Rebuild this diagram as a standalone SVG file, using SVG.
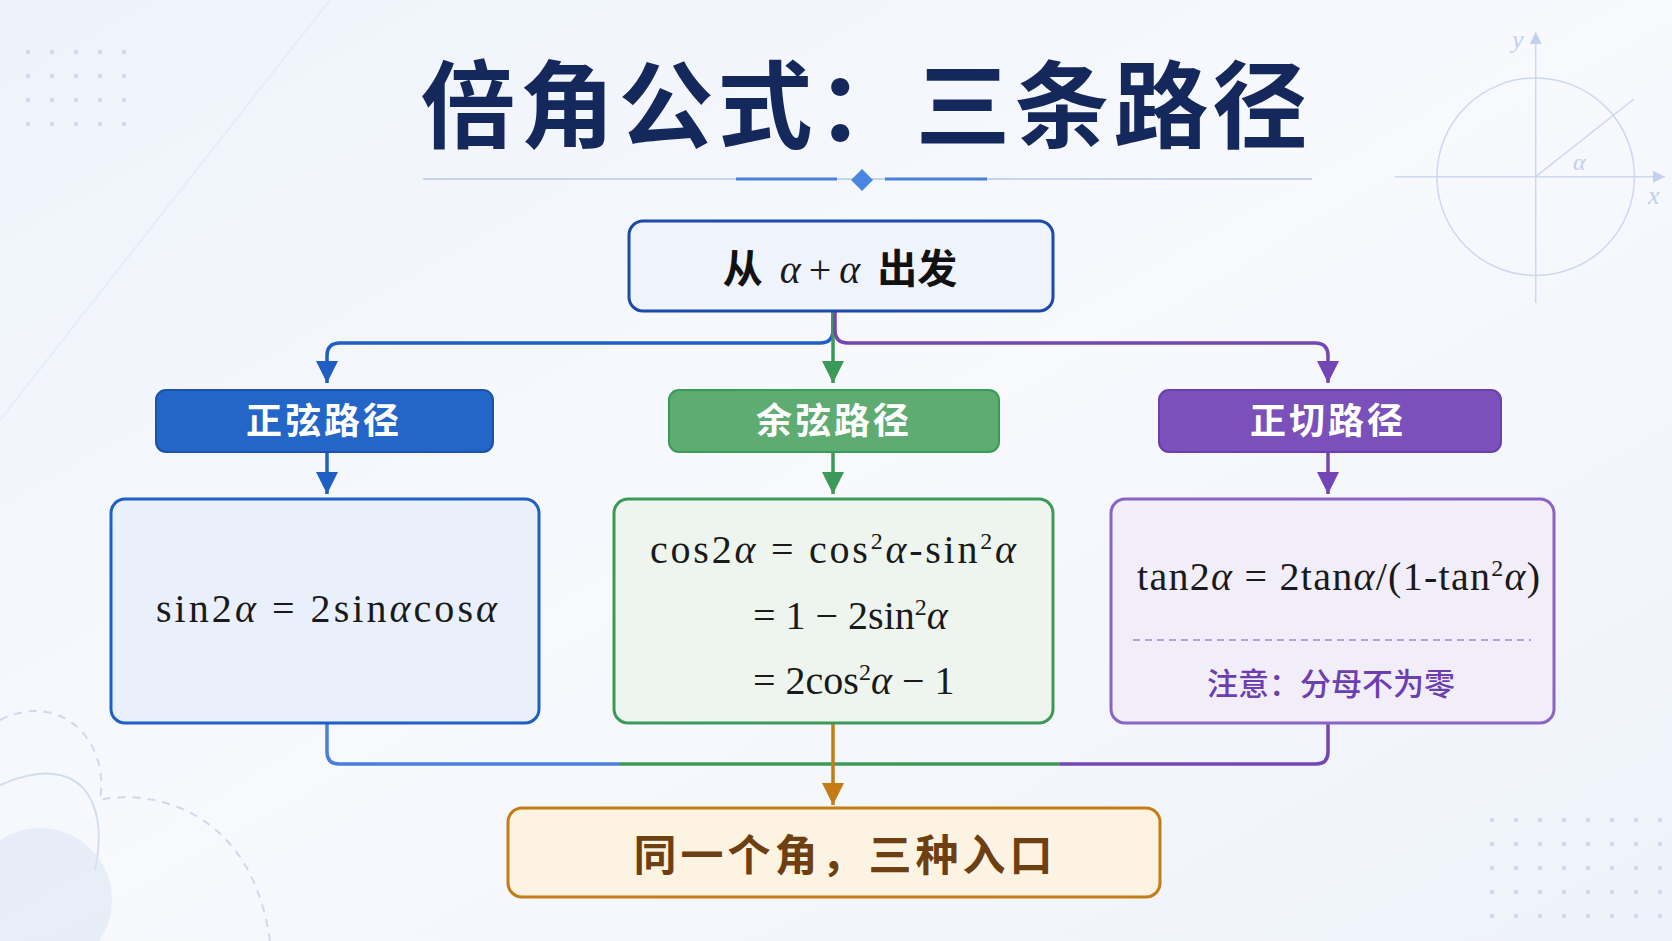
<svg xmlns="http://www.w3.org/2000/svg" width="1672" height="941" viewBox="0 0 1672 941">
<defs>
<linearGradient id="bg" x1="0" y1="0" x2="1" y2="1"><stop offset="0" stop-color="#eef3fb"/><stop offset="0.5" stop-color="#f7f9fd"/><stop offset="1" stop-color="#eef2fa"/></linearGradient>
<marker id="mb" viewBox="0 0 10 10" refX="9" refY="5" markerWidth="5" markerHeight="5" orient="auto" markerUnits="userSpaceOnUse"><path d="M0,0L10,5L0,10z" fill="#1f5fc4"/></marker>
<marker id="ab" viewBox="0 0 10 10" refX="10" refY="5" markerWidth="24" markerHeight="22" orient="auto" markerUnits="userSpaceOnUse"><path d="M0,0L10,5L0,10z" fill="#1f5fc4"/></marker>
<marker id="ag" viewBox="0 0 10 10" refX="10" refY="5" markerWidth="24" markerHeight="22" orient="auto" markerUnits="userSpaceOnUse"><path d="M0,0L10,5L0,10z" fill="#3c9a58"/></marker>
<marker id="ap" viewBox="0 0 10 10" refX="10" refY="5" markerWidth="24" markerHeight="22" orient="auto" markerUnits="userSpaceOnUse"><path d="M0,0L10,5L0,10z" fill="#7446b5"/></marker>
<marker id="ao" viewBox="0 0 10 10" refX="10" refY="5" markerWidth="24" markerHeight="22" orient="auto" markerUnits="userSpaceOnUse"><path d="M0,0L10,5L0,10z" fill="#c47d14"/></marker>
<marker id="ax" viewBox="0 0 10 10" refX="10" refY="5" markerWidth="14" markerHeight="12" orient="auto" markerUnits="userSpaceOnUse"><path d="M0,0L10,5L0,10z" fill="#c3cfee"/></marker>
<pattern id="dots" width="24" height="24" patternUnits="userSpaceOnUse"><circle cx="4" cy="4" r="2.3" fill="#c7d3ea"/></pattern>
</defs>
<style>
.cjk{font-family:"Noto Sans CJK SC","Noto Sans",sans-serif;font-weight:700}
.m{font-family:"Liberation Serif","DejaVu Serif",serif;font-size:40px;fill:#1a1a1a}
.i{font-style:italic}
.hd{font-size:36px;fill:#ffffff;text-anchor:middle}
.ln{fill:none;stroke-width:3.5;stroke-linejoin:round}
</style>
<rect width="1672" height="941" fill="url(#bg)"/>
<g id="decor">
<rect x="14" y="30" width="120" height="110" fill="url(#dots)" opacity="0.8"/>
<rect x="1484" y="810" width="180" height="125" fill="url(#dots)" opacity="0.8"/>
<path d="M0,420 L330,0" stroke="#e6edf8" stroke-width="2" fill="none"/>
<path d="M0,720 C60,690 110,740 100,800 C140,790 250,800 270,941" stroke="#cfd9ec" stroke-width="2" stroke-dasharray="8 7" fill="none"/>
<path d="M0,785 C80,750 110,800 95,870" stroke="#d3ddef" stroke-width="2" fill="none"/>
<circle cx="40" cy="900" r="72" fill="#dde6f4" opacity="0.6"/>
<circle cx="1535.7" cy="176.7" r="98.8" fill="none" stroke="#cdd7f0" stroke-width="1.5"/>
<line x1="1395" y1="176.7" x2="1665" y2="176.7" stroke="#cdd7f0" stroke-width="1.5" marker-end="url(#ax)"/>
<line x1="1535.7" y1="303" x2="1535.7" y2="32" stroke="#cdd7f0" stroke-width="1.5" marker-end="url(#ax)"/>
<line x1="1535.7" y1="176.7" x2="1634" y2="99" stroke="#cdd7f0" stroke-width="1.5"/>
<text x="1573" y="170" class="m i" font-size="24" fill="#c3cfee" style="font-size:24px;fill:#c3cfee">α</text>
<text x="1648" y="204" class="m i" style="font-size:26px;fill:#c3cfee">x</text>
<text x="1512" y="48" class="m i" style="font-size:26px;fill:#c3cfee">y</text>
</g>
<g id="title">
<text x="866" y="141" class="cjk" font-size="95" fill="#14285c" text-anchor="middle" letter-spacing="4">倍角公式：三条路径</text>
<line x1="423" y1="179" x2="1312" y2="179" stroke="#c6d3ee" stroke-width="2"/>
<line x1="736" y1="179" x2="837" y2="179" stroke="#4a80d8" stroke-width="3"/>
<line x1="885" y1="179" x2="987" y2="179" stroke="#4a80d8" stroke-width="3"/>
<path d="M862,169L873,180L862,191L851,180z" fill="#4a86e0"/>
</g>
<g id="connectors">
<path class="ln" stroke="#1f5fc4" d="M833,311 V330 Q833,343 820,343 H340 Q327,343 327,356 V383" marker-end="url(#ab)"/>
<path class="ln" stroke="#3c9a58" d="M833,311 V383" marker-end="url(#ag)"/>
<path class="ln" stroke="#7446b5" d="M835,311 V330 Q835,343 848,343 H1315 Q1328,343 1328,356 V383" marker-end="url(#ap)"/>
<path class="ln" stroke="#1f5fc4" d="M327,452 V494" marker-end="url(#ab)"/>
<path class="ln" stroke="#3c9a58" d="M833,452 V494" marker-end="url(#ag)"/>
<path class="ln" stroke="#7446b5" d="M1328,452 V494" marker-end="url(#ap)"/>
<path class="ln" stroke="#4a80d8" d="M327,723 V752 Q327,764 339,764 H620"/>
<path class="ln" stroke="#3c9a58" d="M620,764 H1060"/>
<path class="ln" stroke="#7446b5" d="M1060,764 H1316 Q1328,764 1328,752 V723"/>
<path class="ln" stroke="#c47d14" d="M833,723 V805" marker-end="url(#ao)"/>
</g>
<g id="start">
<rect x="629" y="221" width="424" height="90" rx="14" fill="#eef3fc" stroke="#1b4aa8" stroke-width="3"/>
<text x="840" y="283" text-anchor="middle" font-size="40" fill="#111"><tspan class="cjk">从 </tspan><tspan class="m i" dx="8">α</tspan><tspan class="m" dx="8">+</tspan><tspan class="m i" dx="8">α</tspan><tspan class="cjk" dx="8"> 出发</tspan></text>
</g>
<g id="h-sin">
<rect x="156" y="390" width="337" height="62" rx="10" fill="#2466c8" stroke="#1b53a8" stroke-width="2"/>
<text x="324" y="434" class="cjk hd" letter-spacing="3">正弦路径</text>
</g>
<g id="h-cos">
<rect x="669" y="390" width="330" height="62" rx="10" fill="#5eac72" stroke="#3c9a58" stroke-width="2"/>
<text x="834" y="434" class="cjk hd" letter-spacing="3">余弦路径</text>
</g>
<g id="h-tan">
<rect x="1159" y="390" width="342" height="62" rx="10" fill="#7b50ba" stroke="#6a3fae" stroke-width="2"/>
<text x="1328" y="434" class="cjk hd" letter-spacing="3">正切路径</text>
</g>
<g id="b-sin">
<rect x="111" y="499" width="428" height="224" rx="14" fill="#e9f0fb" stroke="#1f5fc4" stroke-width="3"/>
<text x="156" y="622" class="m" textLength="341">sin2<tspan class="i">α</tspan> = 2sin<tspan class="i">α</tspan>cos<tspan class="i">α</tspan></text>
</g>
<g id="b-cos">
<rect x="614" y="499" width="439" height="224" rx="14" fill="#edf5ee" stroke="#3c9a58" stroke-width="3"/>
<text x="650" y="563" class="m" textLength="366">cos2<tspan class="i">α</tspan> = cos<tspan dy="-14" font-size="24">2</tspan><tspan dy="14" class="i">α</tspan>-sin<tspan dy="-14" font-size="24">2</tspan><tspan dy="14" class="i">α</tspan></text>
<text x="753" y="629" class="m">= 1 − 2sin<tspan dy="-14" font-size="24">2</tspan><tspan dy="14" class="i">α</tspan></text>
<text x="753" y="694" class="m">= 2cos<tspan dy="-14" font-size="24">2</tspan><tspan dy="14" class="i">α</tspan> − 1</text>
</g>
<g id="b-tan">
<rect x="1111" y="499" width="443" height="224" rx="14" fill="#f1edf9" stroke="#8a63c4" stroke-width="3"/>
<text x="1137" y="590" class="m" textLength="403">tan2<tspan class="i">α</tspan> = 2tan<tspan class="i">α</tspan>/(1-tan<tspan dy="-14" font-size="24">2</tspan><tspan dy="14" class="i">α</tspan>)</text>
<line x1="1133" y1="640" x2="1531" y2="640" stroke="#9c86c9" stroke-width="1.5" stroke-dasharray="7 5"/>
<text x="1331" y="695" class="cjk" font-size="31" fill="#6b3fb0" text-anchor="middle" font-weight="500" style="font-weight:500">注意：分母不为零</text>
</g>
<g id="end">
<rect x="508" y="808" width="652" height="89" rx="14" fill="#fdf3e3" stroke="#c47d14" stroke-width="3"/>
<text x="845" y="871" class="cjk" font-size="43" fill="#6e3f10" text-anchor="middle" letter-spacing="4">同一个角，三种入口</text>
</g>
</svg>
